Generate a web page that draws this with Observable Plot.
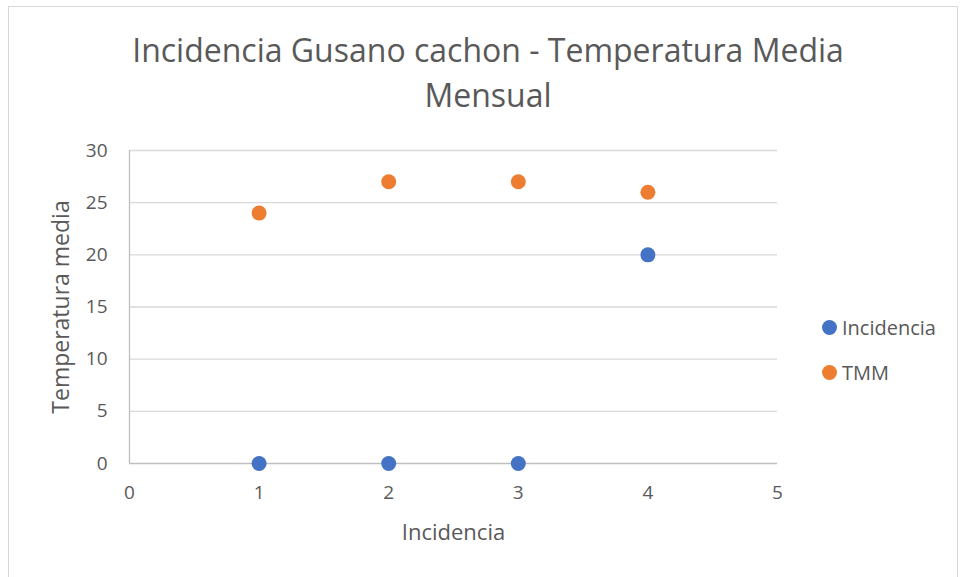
<!DOCTYPE html>
<html>
<head>
<meta charset="utf-8">
<script src="https://cdn.jsdelivr.net/npm/d3@7"></script>
<script src="https://cdn.jsdelivr.net/npm/@observablehq/plot@0.6"></script>
<style>
  body { margin: 0; background: #fff; font-family: "Open Sans", sans-serif; }
  #wrap { position: relative; width: 960px; height: 577px; overflow: hidden; }
  #frame { position: absolute; left: 8px; top: 6px; width: 948px; height: 600px; border: 1px solid #D9D9D9; }
  #title { position: absolute; left: 0; width: 976px; top: 27px; text-align: center; color: #595959; font-size: 32px; line-height: 45px; }
  #chart { position: absolute; left: 0; top: 0; }
  .leg { position: absolute; left: 822px; font-size: 20px; color: #595959; display: flex; align-items: center; }
  .leg span.d { display: inline-block; width: 15px; height: 15px; border-radius: 50%; margin-right: 5px; }
</style>
</head>
<body>
<div id="wrap">
  <div id="frame"></div>
  <div id="chart"></div>
  <div id="title">Incidencia Gusano cachon - Temperatura Media<br>Mensual</div>
  <div class="leg" style="top:314px"><span class="d" style="background:#4472C4"></span>Incidencia</div>
  <div class="leg" style="top:359px"><span class="d" style="background:#ED7D31"></span>TMM</div>
</div>
<script>
const xValues = [1, 2, 3, 4];
const incidencia = [0, 0, 0, 20];
const tmm = [24, 27, 27, 26];
const xTicks = [0, 1, 2, 3, 4, 5];
const yTicks = [0, 5, 10, 15, 20, 25, 30];
const seriesNames = ["Incidencia", "TMM"];
const colors = ["#4472C4", "#ED7D31"];

const data = [
  ...xValues.map((x, i) => ({x, y: incidencia[i], s: seriesNames[0]})),
  ...xValues.map((x, i) => ({x, y: tmm[i], s: seriesNames[1]}))
];

const chart = Plot.plot({
  width: 960,
  height: 577,
  marginLeft: 129,
  marginRight: 183,
  marginTop: 150,
  marginBottom: 114,
  style: { fontFamily: "Open Sans, sans-serif", fontSize: "19px", color: "#595959", background: "transparent" },
  x: { domain: [0, 5], ticks: xTicks, tickSize: 0, tickPadding: 22, label: null },
  y: { domain: [0, 30], ticks: yTicks, tickSize: 0, tickPadding: 22, label: null },
  color: { domain: seriesNames, range: colors },
  marks: [
    Plot.ruleY(yTicks.filter(d => d > 0), { stroke: "#D9D9D9", strokeWidth: 1.3, strokeOpacity: 1 }),
    Plot.ruleY([0], { stroke: "#BFBFBF", strokeWidth: 1.3, strokeOpacity: 1 }),
    Plot.ruleX([0], { stroke: "#BFBFBF", strokeWidth: 1.3, strokeOpacity: 1 }),
    Plot.axisX({ ticks: xTicks, tickFormat: d3.format("d"), tickSize: 0, tickPadding: 22, label: null, fill: "#595959", fontSize: 19 }),
    Plot.axisY({ ticks: yTicks, tickFormat: d3.format("d"), tickSize: 0, tickPadding: 22, label: null, fill: "#595959", fontSize: 19 }),
    Plot.dot(data, { x: "x", y: "y", fill: "s", r: 7.5, stroke: null }),
    Plot.text(["Incidencia"], { frameAnchor: "bottom", dy: 76, fontSize: 22, fill: "#595959" }),
    Plot.text(["Temperatura media"], { frameAnchor: "left", textAnchor: "middle", dx: -68, rotate: -90, fontSize: 23, fill: "#595959" })
  ]
});
document.getElementById("chart").appendChild(chart);
</script>
</body>
</html>
